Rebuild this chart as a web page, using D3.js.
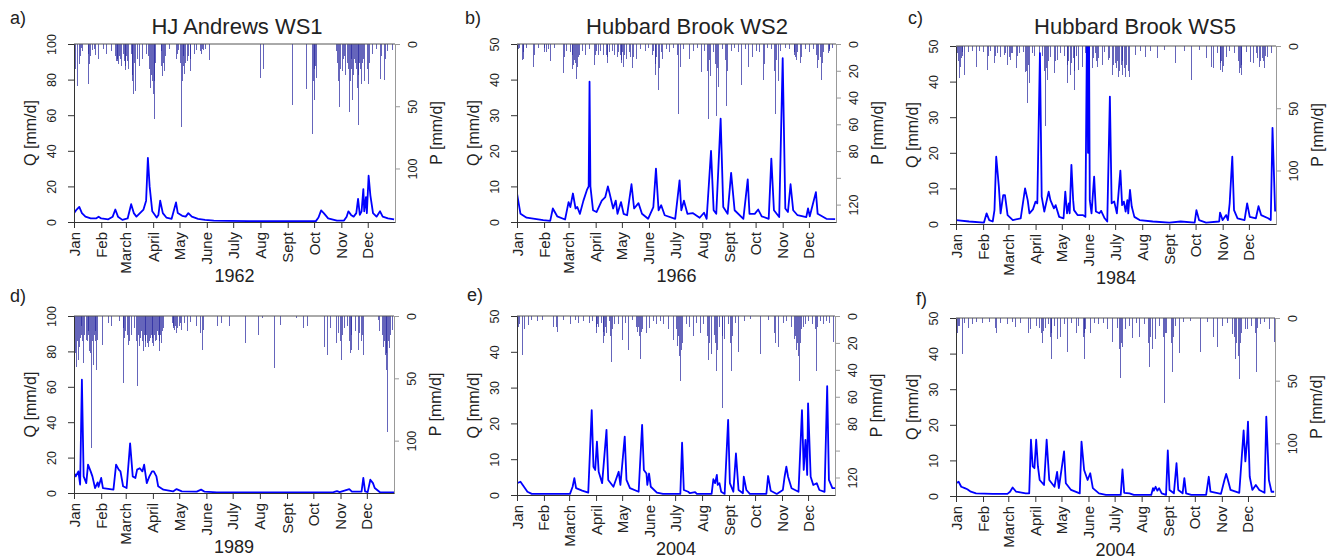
<!DOCTYPE html>
<html>
<head>
<meta charset="utf-8">
<script src="https://cdn.jsdelivr.net/npm/d3@7/dist/d3.min.js"></script>
<style>
  body { margin: 0; background: #fff; }
  text { font-family: "Liberation Sans", Arial, sans-serif; fill: #222; }
</style>
</head>
<body>
<script>
// month ticks
const months = ["Jan", "Feb", "March", "April", "May", "June", "July", "Aug", "Sept", "Oct", "Nov", "Dec"];
const monthStart = [1, 32, 60, 91, 121, 152, 182, 213, 244, 274, 305, 335];
const monthStartLeap = [1, 32, 61, 92, 122, 153, 183, 214, 245, 275, 306, 336];

// discharge Q [mm/d], [day of year, value]
const qA = [[1,5],[4,7],[7,8.5],[10,5],[14,3],[20,2],[26,2],[29,3],[32,2],[40,1.5],[45,3],[48,7],[51,3],[56,1.2],[62,2],[66,10],[69,5],[72,3],[76,5],[80,7],[83,12],[85,36],[87,20],[90,6],[95,2.5],[97,4],[99,12],[102,5],[106,2.5],[112,1.8],[117,11],[119,5],[124,3.5],[128,3],[131,5],[135,3],[142,1.8],[150,1.2],[160,0.8],[175,0.6],[200,0.5],[230,0.5],[260,0.5],[276,0.5],[279,2.5],[282,6.5],[285,5],[290,2],[300,0.8],[308,0.8],[311,3],[313,6],[316,4],[319,3],[322,5],[324,13],[326,4],[328,6],[330,18.5],[331,6],[333,14],[334,5],[336,26],[338,15],[341,5],[345,3],[349,6],[352,3],[358,2],[365,1.5]];
const qB = [[1,8],[5,2.3],[12,1.2],[31,0.5],[39,0.3],[42,3.8],[47,1.6],[56,0.7],[60,5.6],[62,4.2],[65,8],[68,3.8],[70,4.2],[73,2.3],[77,6],[81,9],[83,10],[84,39.4],[85,10],[88,3.3],[92,2.8],[98,6],[102,7],[105,10],[107,8],[111,3.8],[114,6],[116,2.3],[120,5.6],[123,2.3],[127,1.9],[132,10.6],[135,3.8],[140,5.3],[144,2.3],[151,0.9],[157,4.2],[160,15],[163,3.3],[166,4.7],[170,1.9],[182,0.9],[187,11.7],[189,3.3],[192,6],[196,2.3],[202,2.5],[210,1.2],[215,2.6],[218,0.9],[223,20],[226,3.3],[229,2.3],[234,29],[237,4.2],[242,2.3],[246,13.8],[250,3.3],[260,0.9],[265,12],[267,2.3],[273,2.3],[277,3.5],[281,1.6],[289,0.9],[292,17.8],[295,3.3],[301,1.4],[305,46],[308,3.8],[311,2.8],[314,10.6],[317,3.3],[322,1.9],[332,1.4],[334,3.8],[336,1.6],[343,8.4],[345,2.3],[355,0.9],[365,0.8]];
const qC = [[1,1.1],[16,0.7],[33,0.4],[36,3],[39,1.1],[43,0.7],[45,3.9],[47,18.9],[50,10.5],[52,3],[55,8.1],[57,8.1],[60,2.5],[66,1.1],[75,1.6],[80,10],[83,6.7],[85,3],[89,4.1],[92,6.3],[94,5.8],[97,48],[99,7.7],[102,3.5],[107,9.1],[109,6.7],[113,4.4],[115,5.3],[119,2],[124,1.6],[126,9.1],[128,3],[130,5.8],[131,3],[133,16.6],[135,6.7],[136,3.9],[140,2.5],[146,2.5],[149,2],[151,60],[152,20],[153,60],[154,6.7],[156,3],[159,13.3],[161,3.5],[165,3],[167,3.7],[171,1.6],[174,0.7],[177,35.8],[179,5.8],[182,6.3],[185,3],[189,15],[191,5.3],[193,6.3],[195,3.5],[197,6.7],[198,3],[200,9.6],[202,4.9],[205,2],[211,1.1],[226,0.7],[245,0.4],[258,0.7],[274,0.4],[276,3.9],[279,1.1],[287,0.4],[302,0.7],[303,3.2],[306,1.1],[310,2.5],[312,1.1],[314,5.8],[317,18.9],[319,3.9],[323,1.6],[331,1.1],[334,5.8],[337,2],[344,1.6],[347,5],[350,2.5],[358,1.6],[361,1.1],[363,27],[366,3.5]];
const qD = [[1,11.3],[3,9.4],[6,12.2],[8,4.7],[10,64],[12,9.4],[15,5.6],[17,16],[20,12.2],[22,9.4],[25,2.8],[28,6],[29,3.5],[32,8.5],[34,2.8],[46,1.9],[49,16],[52,13.2],[54,12.2],[57,3.8],[61,2.8],[65,28],[68,9.4],[71,8.5],[73,13.2],[76,14],[79,12.2],[81,16],[84,5.6],[87,9.4],[90,12.2],[92,12.2],[95,9.4],[97,3.8],[103,1.9],[114,0.9],[118,2.2],[124,0.9],[141,0.75],[146,1.9],[150,0.75],[164,0.4],[220,0.4],[297,0.5],[301,1.1],[304,0.5],[315,2.2],[318,0.75],[329,0.75],[331,8.5],[333,0.9],[336,0.5],[339,7.5],[342,5.6],[344,2.8],[350,0.4],[366,0.4]];
const qE = [[1,3.3],[5,3.7],[9,2.3],[13,0.9],[18,0.3],[62,0.3],[65,2.3],[67,4.7],[69,1.9],[76,1.2],[83,0.65],[87,23.7],[89,7.9],[91,7],[93,14.9],[95,6.5],[99,3.3],[104,18.2],[106,4.2],[112,2.3],[118,6.5],[120,2.8],[125,16.3],[127,4.2],[131,1.9],[141,0.9],[145,19.6],[147,7],[150,6],[151,2.8],[153,6],[155,2.3],[162,0.65],[169,0.3],[189,0.3],[191,14.6],[193,1.4],[198,0.9],[200,0.5],[206,0.8],[208,0.3],[225,0.3],[227,4.4],[229,3.3],[231,5.6],[232,2.8],[234,3.3],[236,0.9],[240,0.3],[244,21],[246,3.3],[250,0.9],[253,11.6],[256,1.4],[261,0.5],[262,5.1],[265,1.4],[269,0.3],[288,0.3],[290,5.3],[293,1.2],[300,0.3],[307,1.4],[309,5.1],[311,7.9],[313,5.1],[317,1.9],[325,0.9],[329,23.7],[331,7],[333,15.4],[335,5.6],[336,25.6],[339,5.1],[342,2.8],[346,3.3],[349,1.4],[355,0.9],[358,30.4],[360,4.2],[364,1.9],[367,1.9]];
const qF = [[1,3.6],[4,4],[7,2.6],[11,2.2],[14,1.9],[18,1.2],[24,0.75],[43,0.6],[60,0.6],[63,1.2],[66,2.4],[70,1.2],[81,0.75],[85,0.75],[87,15.8],[89,8.3],[91,7.8],[93,15.8],[95,8.3],[97,4.5],[102,3.1],[105,15.8],[108,4.5],[114,2.6],[117,6.8],[119,2.2],[125,12.5],[127,3.6],[133,1.7],[143,0.75],[145,15.3],[148,7.3],[152,4.5],[155,6.4],[158,2.2],[165,0.75],[173,0.3],[190,0.3],[192,7.5],[194,0.9],[200,0.75],[205,0.3],[225,0.3],[227,2.2],[228,1.5],[230,2.6],[232,1.5],[234,2.2],[237,0.75],[242,0.3],[244,12.8],[246,1.7],[251,0.75],[254,9.2],[256,1.7],[261,0.75],[263,5],[265,0.75],[271,0.3],[288,0.3],[291,5.4],[293,1.2],[305,0.6],[309,4.5],[311,6.2],[313,4.5],[316,1.7],[326,0.9],[331,18.4],[333,9.7],[335,15.8],[336,20.9],[338,5.4],[341,1.7],[345,3.1],[349,1.7],[355,0.9],[357,22.3],[360,4.5],[363,1.2],[366,1.2]];

// precipitation P [mm/d], [day of year, value]
const pA = [[2,72],[3,20],[5,34],[7,16],[10,3],[17,32],[19,16],[22,5],[25,9],[29,12],[34,4],[38,8],[44,6],[49,14],[51,14],[53,10],[55,18],[57,8],[59,21],[61,10],[63,20],[66,8],[69,40],[71,38],[73,12],[76,18],[79,12],[86,10],[88,35],[90,30],[92,60],[94,15],[100,6],[102,26],[104,22],[110,4],[118,12],[120,5],[123,67],[125,10],[127,24],[130,14],[133,22],[138,8],[140,5],[145,6],[147,4],[150,4],[155,13],[213,27],[217,20],[249,49],[265,36],[272,72],[274,20],[275,45],[277,27],[300,6],[303,51],[306,22],[309,10],[312,15],[314,55],[316,12],[318,45],[320,12],[322,20],[324,65],[326,15],[328,32],[331,30],[336,32],[340,8],[345,4],[350,28],[354,29],[358,6],[363,5],
  [8,10],[11,6],[18,8],[20,10],[24,4],[48,10],[50,12],[52,16],[54,12],[58,14],[60,18],[62,14],[67,30],[68,25],[70,15],[84,8],[87,20],[89,25],[91,40],[93,30],[101,18],[103,15],[105,10],[119,8],[122,15],[124,30],[126,18],[128,15],[131,10],[134,12],[146,8],[148,5],[273,30],[276,18],[301,15],[302,30],[304,20],[307,12],[310,25],[313,20],[315,30],[317,20],[319,25],[321,15],[323,35],[325,25],[327,20],[329,15],[330,12],[335,20],[337,15],[351,10],[355,12]];
const pB = [[3,4],[7,12],[9,11],[12,3],[20,17],[26,3],[32,6],[35,6],[37,4],[39,13],[44,3],[54,22],[58,5],[62,6],[65,19],[66,16],[69,26],[70,17],[73,8],[76,5],[79,8],[84,4],[90,16],[94,8],[97,5],[100,8],[104,14],[107,6],[110,5],[113,8],[116,10],[120,14],[123,17],[126,11],[130,6],[133,18],[138,11],[142,4],[148,5],[152,3],[156,8],[159,23],[163,34],[166,6],[168,11],[172,4],[175,6],[180,3],[186,52],[188,17],[192,4],[198,11],[203,5],[208,3],[212,21],[216,5],[220,56],[222,24],[226,6],[229,54],[232,32],[236,4],[241,46],[246,5],[250,3],[254,6],[258,31],[262,4],[266,17],[270,10],[275,5],[279,6],[283,27],[288,3],[292,4],[297,52],[300,28],[303,5],[308,3],[313,4],[318,6],[321,12],[325,14],[327,10],[331,4],[336,6],[340,4],[345,18],[349,27],[352,6],[357,7],[362,3],
  [4,3],[8,6],[21,8],[33,3],[55,10],[64,8],[67,12],[68,14],[71,10],[91,8],[92,5],[103,8],[105,10],[117,6],[119,8],[121,12],[122,6],[124,8],[131,10],[134,10],[157,5],[160,15],[161,10],[164,18],[185,8],[219,20],[221,12],[228,15],[230,18],[240,12],[242,20],[284,15],[296,20],[298,12],[319,8],[320,10],[322,6],[344,8],[346,12],[348,10],[350,14],[358,4],[359,5]];
const pC = [[3,6],[5,26],[6,17],[9,8],[11,23],[15,5],[20,4],[24,17],[28,4],[33,5],[37,19],[41,4],[45,14],[48,6],[52,9],[56,7],[60,15],[63,11],[66,6],[70,18],[74,6],[78,5],[81,21],[83,46],[85,30],[88,6],[91,8],[96,14],[100,8],[103,64],[106,27],[109,9],[114,22],[117,11],[121,6],[125,8],[129,30],[132,23],[136,35],[139,8],[141,19],[146,17],[149,6],[153,19],[157,18],[160,6],[163,17],[168,15],[171,5],[175,11],[180,23],[183,14],[187,25],[191,23],[195,25],[199,25],[206,7],[212,4],[218,9],[224,4],[231,10],[240,3],[252,14],[262,4],[270,27],[280,3],[288,10],[293,17],[296,18],[300,6],[304,19],[306,21],[310,9],[314,4],[320,6],[325,22],[328,23],[333,5],[338,13],[341,14],[345,6],[348,17],[351,10],[354,18],[357,9],[362,6],
  [4,12],[7,10],[8,5],[38,8],[46,8],[58,6],[62,9],[64,6],[71,8],[82,20],[84,15],[102,20],[104,18],[107,12],[115,12],[128,15],[130,12],[133,14],[135,10],[137,20],[152,12],[154,10],[158,10],[162,12],[164,10],[176,10],[181,15],[184,18],[186,12],[188,20],[190,15],[192,12],[194,18],[196,15],[198,20],[303,14],[305,12],[307,16],[324,12],[326,18],[327,15],[346,10],[349,12],[353,12],[355,8]];
const pD = [[2,23],[4,41],[6,35],[8,18],[10,8],[12,38],[15,19],[17,12],[19,28],[21,106],[23,39],[25,12],[27,43],[28,19],[33,23],[40,6],[44,8],[53,4],[57,54],[59,18],[63,23],[67,15],[70,10],[73,56],[76,24],[78,12],[80,28],[83,20],[85,22],[88,18],[92,24],[95,19],[99,28],[101,22],[103,10],[113,6],[116,11],[118,14],[124,11],[127,6],[131,12],[134,5],[141,8],[145,14],[147,27],[149,11],[165,8],[169,6],[178,8],[197,22],[211,15],[216,2],[230,42],[237,7],[255,2],[263,10],[267,8],[287,25],[290,31],[293,10],[300,22],[303,14],[306,35],[309,10],[313,8],[316,30],[318,27],[322,12],[325,27],[327,14],[331,31],[348,3],[350,12],[354,25],[356,31],[358,43],[359,93],[361,26],[364,11],
  [1,10],[3,30],[5,20],[7,25],[9,15],[11,20],[13,15],[16,20],[18,15],[20,30],[22,20],[24,15],[26,20],[58,10],[60,12],[62,15],[64,20],[72,20],[74,15],[77,18],[79,20],[81,15],[82,25],[84,15],[86,25],[87,20],[89,15],[90,22],[91,18],[93,15],[94,20],[96,12],[97,15],[98,20],[100,15],[102,12],[114,8],[115,10],[117,8],[119,10],[121,8],[122,6],[305,20],[307,15],[315,20],[317,15],[329,20],[330,15],[353,15],[355,20],[357,30],[360,20],[362,15]];
const pE = [[2,12],[4,6],[7,29],[10,10],[14,7],[18,3],[25,4],[30,3],[43,8],[48,12],[55,3],[62,6],[68,3],[72,5],[78,4],[84,5],[88,4],[92,13],[95,8],[98,5],[101,20],[104,13],[107,4],[110,34],[113,6],[118,6],[122,18],[126,5],[129,25],[134,3],[138,8],[140,12],[143,32],[146,10],[150,13],[154,9],[158,4],[162,6],[166,4],[170,6],[175,10],[181,18],[186,22],[189,48],[192,20],[196,6],[200,8],[204,15],[208,5],[212,13],[216,6],[221,33],[225,28],[228,14],[231,41],[234,8],[238,68],[240,17],[244,6],[248,41],[252,5],[256,27],[263,4],[270,2],[281,28],[290,3],[297,13],[299,20],[302,23],[308,5],[311,4],[317,8],[320,17],[323,25],[326,48],[328,10],[331,8],[333,6],[337,4],[341,6],[346,41],[350,4],[354,6],[357,4],[361,5],[365,19],
  [3,8],[47,8],[93,8],[94,6],[100,12],[102,15],[103,8],[109,15],[111,10],[141,8],[142,15],[144,12],[185,10],[187,15],[188,30],[190,25],[220,15],[222,20],[230,20],[232,25],[237,15],[247,20],[249,15],[322,15],[324,20],[325,30],[327,20],[345,10],[347,8]];
const pF = [[3,12],[5,6],[8,29],[11,4],[15,8],[20,5],[25,3],[31,4],[40,3],[47,12],[52,4],[60,5],[66,3],[69,7],[75,4],[84,12],[87,9],[93,6],[97,8],[100,20],[104,8],[107,5],[110,33],[114,6],[118,17],[121,15],[125,5],[129,27],[134,4],[139,12],[142,6],[148,33],[150,9],[155,12],[160,4],[165,5],[170,4],[175,9],[181,19],[186,8],[190,48],[192,23],[196,9],[200,6],[204,16],[208,4],[212,15],[217,5],[223,39],[226,25],[230,17],[234,6],[240,68],[243,12],[249,43],[253,6],[257,28],[262,3],[270,2],[282,27],[290,3],[297,15],[301,23],[307,6],[312,4],[318,13],[322,33],[326,49],[329,12],[333,9],[336,9],[340,6],[346,43],[350,5],[355,3],[361,9],[366,19],
  [4,6],[46,8],[99,12],[101,10],[109,15],[111,12],[147,15],[149,12],[189,25],[191,20],[222,20],[224,15],[239,15],[241,12],[248,20],[250,15],[321,15],[323,20],[325,30],[327,20],[345,12],[347,8]];

// axis ticks
const qTicks100 = [0, 20, 40, 60, 80, 100];
const qTicks50 = [0, 10, 20, 30, 40, 50];
const pTicks50 = [0, 50, 100];
const pTicks20 = [0, 20, 40, 60, 80, 100, 120];
const pLabels20 = ["0", "20", "40", "60", "80", "", "120"];

const panels = [
  {letter: "a)", title: "HJ Andrews WS1", year: "1962", leap: false, q: qA, p: pA, qMax: 100, qTicks: qTicks100, pMax: 143, pTicks: pTicks50, pLabels: null,
   box: {l: 74, t: 44, r: 395, b: 222}, titleX: 237, letterX: 10, letterY: 24},
  {letter: "b)", title: "Hubbard Brook WS2", year: "1966", leap: false, q: qB, p: pB, qMax: 50, qTicks: qTicks50, pMax: 133, pTicks: pTicks20, pLabels: pLabels20,
   box: {l: 517, t: 44, r: 836, b: 222}, titleX: 687, letterX: 465, letterY: 24},
  {letter: "c)", title: "Hubbard Brook WS5", year: "1984", leap: true, q: qC, p: pC, qMax: 50, qTicks: qTicks50, pMax: 143, pTicks: pTicks50, pLabels: null,
   box: {l: 956, t: 46, r: 1276, b: 224}, titleX: 1135, letterX: 908, letterY: 24},
  {letter: "d)", title: "", year: "1989", leap: false, q: qD, p: pD, qMax: 100, qTicks: qTicks100, pMax: 142, pTicks: pTicks50, pLabels: null,
   box: {l: 74, t: 316, r: 394, b: 493}, titleX: 0, letterX: 10, letterY: 302},
  {letter: "e)", title: "", year: "2004", leap: true, q: qE, p: pE, qMax: 50, qTicks: qTicks50, pMax: 133, pTicks: pTicks20, pLabels: pLabels20,
   box: {l: 517, t: 316, r: 835, b: 495}, titleX: 0, letterX: 467, letterY: 301},
  {letter: "f)", title: "", year: "2004", leap: true, q: qF, p: pF, qMax: 50, qTicks: qTicks50, pMax: 142, pTicks: pTicks50, pLabels: null,
   box: {l: 956, t: 318, r: 1275, b: 496}, titleX: 0, letterX: 916, letterY: 305}
];

const svg = d3.select("body").append("svg")
    .attr("width", 1343)
    .attr("height", 560);

svg.append("rect").attr("width", 1343).attr("height", 560).attr("fill", "#fff");

panels.forEach(function(pn, i) {
    let b = pn.box;
    let g = svg.append("g");

    let x = d3.scaleLinear()
        .domain([1, pn.leap ? 367 : 366])
        .range([b.l, b.r]);
    let yQ = d3.scaleLinear().domain([0, pn.qMax]).range([b.b, b.t]);
    let yP = d3.scaleLinear().domain([0, pn.pMax]).range([b.t, b.b]);

    g.append("clipPath").attr("id", "clip" + i)
        .append("rect")
        .attr("x", b.l).attr("y", b.t)
        .attr("width", b.r - b.l).attr("height", b.b - b.t);

    // precipitation bars hanging from the top
    g.append("g")
        .selectAll("line")
        .data(pn.p)
        .enter()
        .append("line")
        .attr("x1", d => x(d[0]))
        .attr("x2", d => x(d[0]))
        .attr("y1", yP(0))
        .attr("y2", d => yP(d[1]))
        .attr("stroke", "#24249e")
        .attr("stroke-opacity", 0.7)
        .attr("stroke-width", 1)
        .attr("shape-rendering", "crispEdges");

    // discharge line
    g.append("path")
        .datum(pn.q)
        .attr("clip-path", "url(#clip" + i + ")")
        .attr("fill", "none")
        .attr("stroke", "#0000ff")
        .attr("stroke-width", 1.8)
        .attr("stroke-linejoin", "round")
        .attr("d", d3.line().x(d => x(d[0])).y(d => yQ(d[1])));

    // top line
    g.append("line")
        .attr("x1", b.l).attr("x2", b.r)
        .attr("y1", b.t).attr("y2", b.t)
        .attr("stroke", "#555");

    // left Q axis
    let axL = g.append("g")
        .attr("transform", "translate(" + b.l + ",0)")
        .call(d3.axisLeft(yQ).tickValues(pn.qTicks).tickSize(6).tickSizeOuter(0));
    axL.selectAll("text")
        .attr("x", 0).attr("y", -18).attr("dy", null)
        .attr("transform", "rotate(-90)")
        .style("text-anchor", "middle")
        .style("font-size", "12.5px");

    // right P axis
    let axR = g.append("g")
        .attr("transform", "translate(" + b.r + ",0)")
        .call(d3.axisRight(yP).tickValues(pn.pTicks).tickSize(5).tickSizeOuter(0)
            .tickFormat((d, k) => pn.pLabels ? pn.pLabels[k] : d));
    axR.selectAll("path, line").attr("stroke", "#999");
    axR.selectAll("text")
        .attr("x", 0).attr("y", 22).attr("dy", null)
        .attr("transform", "rotate(-90)")
        .style("text-anchor", "middle")
        .style("font-size", "12.5px");

    // bottom month axis
    let axB = g.append("g")
        .attr("transform", "translate(0," + b.b + ")")
        .call(d3.axisBottom(x).tickValues(pn.leap ? monthStartLeap : monthStart).tickSize(6).tickSizeOuter(0)
            .tickFormat((d, k) => months[k]));
    axB.selectAll("text")
        .attr("x", -10).attr("y", 5).attr("dy", null)
        .attr("transform", "rotate(-90)")
        .style("text-anchor", "end")
        .style("font-size", "15px");

    g.selectAll(".domain").attr("stroke-width", 1);
    axL.selectAll("path, line").attr("stroke", "#333");
    axB.selectAll("path, line").attr("stroke", "#333");

    // axis titles
    g.append("text")
        .attr("transform", "translate(" + (b.l - 38) + "," + ((b.t + b.b) / 2) + ") rotate(-90)")
        .attr("text-anchor", "middle")
        .style("font-size", "16px")
        .text("Q [mm/d]");
    g.append("text")
        .attr("transform", "translate(" + (b.r + 47) + "," + ((b.t + b.b) / 2) + ") rotate(-90)")
        .attr("text-anchor", "middle")
        .style("font-size", "16px")
        .text("P [mm/d]");

    // year
    g.append("text")
        .attr("x", (b.l + b.r) / 2)
        .attr("y", b.b + 60)
        .attr("text-anchor", "middle")
        .style("font-size", "18px")
        .text(pn.year);

    // title
    if (pn.title) {
        g.append("text")
            .attr("x", pn.titleX)
            .attr("y", 34)
            .attr("text-anchor", "middle")
            .style("font-size", "22px")
            .text(pn.title);
    }

    // panel letter
    g.append("text")
        .attr("x", pn.letterX)
        .attr("y", pn.letterY)
        .style("font-size", "18px")
        .text(pn.letter);
});
</script>
</body>
</html>
